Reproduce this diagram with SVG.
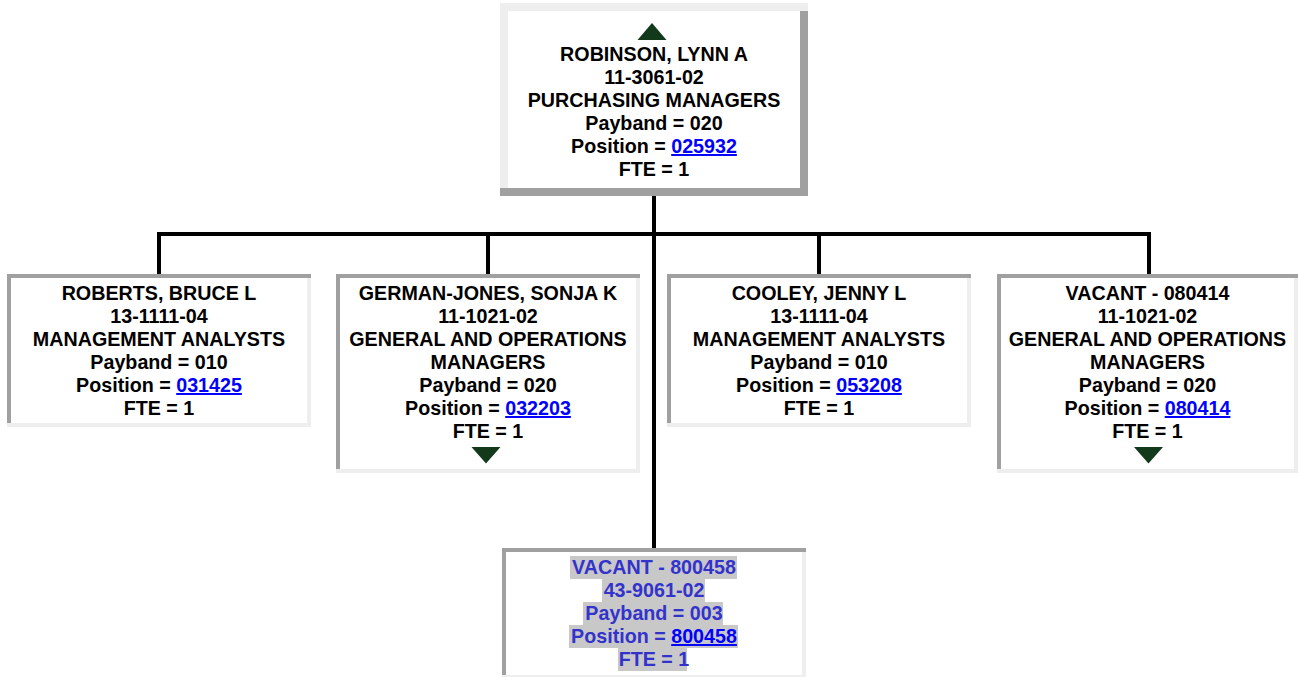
<svg xmlns="http://www.w3.org/2000/svg" width="1299" height="677" viewBox="0 0 1299 677">
<style>
text{font-family:"Liberation Sans",Arial,sans-serif;font-weight:bold;font-size:19.7px;text-anchor:middle;fill:#000}
.lnk{fill:#0000ff;text-decoration:underline}
.vac{fill:#3333cc}
.lt{fill:#eeeeee}
.dk{fill:#a0a0a0}
.bg{fill:#ffffff}
.hl{fill:#c8c8c8}
.tri{fill:#123a1a}
.con{stroke:#000;stroke-width:4;fill:none}
</style>
<rect width="1299" height="677" fill="#fff"/>
<g id="connectors">
<line class="con" x1="157" y1="234" x2="1151" y2="234"/>
<line class="con" x1="654" y1="196" x2="654" y2="548"/>
<line class="con" x1="159" y1="232" x2="159" y2="274"/>
<line class="con" x1="488" y1="232" x2="488" y2="274"/>
<line class="con" x1="819" y1="232" x2="819" y2="274"/>
<line class="con" x1="1149" y1="232" x2="1149" y2="274"/>
</g>
<g id="robinson">
<rect class="bg" x="500" y="3" width="308" height="193"/>
<rect class="lt" x="500" y="3" width="308" height="8"/>
<rect class="lt" x="500" y="11" width="8" height="177"/>
<rect class="dk" x="800" y="11" width="8" height="177"/>
<rect class="dk" x="500" y="188" width="308" height="8"/>
<polygon class="tri" points="652,23 637.5,40 666.5,40"/>
<text x="654" y="61">ROBINSON, LYNN A</text>
<text x="654" y="84">11-3061-02</text>
<text x="654" y="107">PURCHASING MANAGERS</text>
<text x="654" y="130">Payband = 020</text>
<text x="654" y="153">Position = <tspan class="lnk">025932</tspan></text>
<text x="654" y="176">FTE = 1</text>
</g>
<g id="roberts">
<rect class="bg" x="7" y="274" width="304" height="153"/>
<rect class="dk" x="7" y="274" width="304" height="4"/>
<rect class="dk" x="7" y="278" width="4" height="145"/>
<rect class="lt" x="307" y="278" width="4" height="145"/>
<rect class="lt" x="7" y="423" width="304" height="4"/>
<text x="159" y="300">ROBERTS, BRUCE L</text>
<text x="159" y="323">13-1111-04</text>
<text x="159" y="346">MANAGEMENT ANALYSTS</text>
<text x="159" y="369">Payband = 010</text>
<text x="159" y="392">Position = <tspan class="lnk">031425</tspan></text>
<text x="159" y="415">FTE = 1</text>
</g>
<g id="german-jones">
<rect class="bg" x="336" y="274" width="304" height="199"/>
<rect class="dk" x="336" y="274" width="304" height="4"/>
<rect class="dk" x="336" y="278" width="4" height="191"/>
<rect class="lt" x="636" y="278" width="4" height="191"/>
<rect class="lt" x="336" y="469" width="304" height="4"/>
<text x="488" y="300">GERMAN-JONES, SONJA K</text>
<text x="488" y="323">11-1021-02</text>
<text x="488" y="346">GENERAL AND OPERATIONS</text>
<text x="488" y="369">MANAGERS</text>
<text x="488" y="392">Payband = 020</text>
<text x="488" y="415">Position = <tspan class="lnk">032203</tspan></text>
<text x="488" y="438">FTE = 1</text>
<polygon class="tri" points="471.5,447 500.5,447 486,463.5"/>
</g>
<g id="cooley">
<rect class="bg" x="667" y="274" width="304" height="153"/>
<rect class="dk" x="667" y="274" width="304" height="4"/>
<rect class="dk" x="667" y="278" width="4" height="145"/>
<rect class="lt" x="967" y="278" width="4" height="145"/>
<rect class="lt" x="667" y="423" width="304" height="4"/>
<text x="819" y="300">COOLEY, JENNY L</text>
<text x="819" y="323">13-1111-04</text>
<text x="819" y="346">MANAGEMENT ANALYSTS</text>
<text x="819" y="369">Payband = 010</text>
<text x="819" y="392">Position = <tspan class="lnk">053208</tspan></text>
<text x="819" y="415">FTE = 1</text>
</g>
<g id="vacant-080414">
<rect class="bg" x="997" y="274" width="301" height="199"/>
<rect class="dk" x="997" y="274" width="301" height="4"/>
<rect class="dk" x="997" y="278" width="4" height="191"/>
<rect class="lt" x="1294" y="278" width="4" height="191"/>
<rect class="lt" x="997" y="469" width="301" height="4"/>
<text x="1147.5" y="300">VACANT - 080414</text>
<text x="1147.5" y="323">11-1021-02</text>
<text x="1147.5" y="346">GENERAL AND OPERATIONS</text>
<text x="1147.5" y="369">MANAGERS</text>
<text x="1147.5" y="392">Payband = 020</text>
<text x="1147.5" y="415">Position = <tspan class="lnk">080414</tspan></text>
<text x="1147.5" y="438">FTE = 1</text>
<polygon class="tri" points="1134,447 1163,447 1148.5,463.5"/>
</g>
<g id="vacant-800458">
<rect class="bg" x="502" y="548" width="304" height="131"/>
<rect class="dk" x="502" y="548" width="304" height="4"/>
<rect class="dk" x="502" y="552" width="4" height="123"/>
<rect class="lt" x="802" y="552" width="4" height="123"/>
<rect class="lt" x="502" y="675" width="304" height="4"/>
<rect class="hl" x="570" y="556" width="167" height="23"/>
<rect class="hl" x="602" y="579" width="103" height="23"/>
<rect class="hl" x="583" y="602" width="140" height="23"/>
<rect class="hl" x="569" y="625" width="169" height="23"/>
<rect class="hl" x="618" y="648" width="69" height="23"/>
<text class="vac" x="654" y="574">VACANT - 800458</text>
<text class="vac" x="654" y="597">43-9061-02</text>
<text class="vac" x="654" y="620">Payband = 003</text>
<text class="vac" x="654" y="643">Position = <tspan class="lnk">800458</tspan></text>
<text class="vac" x="654" y="666">FTE = 1</text>
</g>
</svg>
